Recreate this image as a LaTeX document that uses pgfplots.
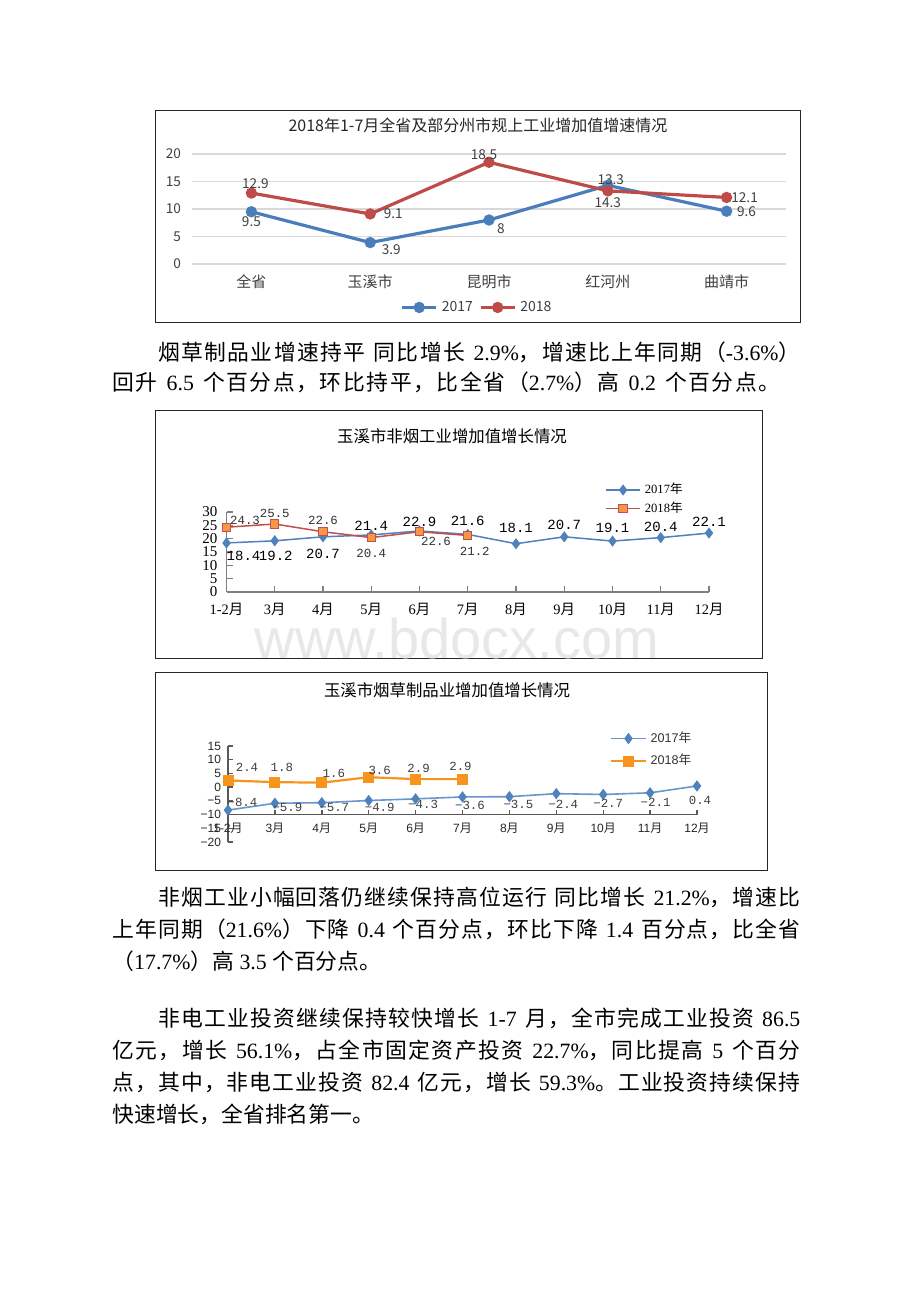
\documentclass[border=0pt]{standalone}
\usepackage{pgfplots}
\pgfplotsset{compat=1.18}
\usepackage{fontspec}
\setmainfont{Liberation Serif}
\newfontfamily\cjkfont{Noto Sans CJK SC}
\newfontfamily\sansfont{Liberation Sans}
\newfontfamily\monofont{Liberation Mono}

% switch CJK characters to the CJK font automatically
\XeTeXinterchartokenstate=1
\newXeTeXintercharclass\cjkclass
\newcount\cjkc
\def\setcjkrange#1#2{\cjkc=#1 \loop\XeTeXcharclass\cjkc=\cjkclass \ifnum\cjkc<#2 \advance\cjkc by 1 \repeat}
\setcjkrange{"3000}{"303F}
\setcjkrange{"4E00}{"9FFF}
\setcjkrange{"FF00}{"FFEF}
\XeTeXinterchartoks 0 \cjkclass={\begingroup\cjkfont}
\XeTeXinterchartoks 4095 \cjkclass={\begingroup\cjkfont}
\XeTeXinterchartoks \cjkclass 0={\endgroup}
\XeTeXinterchartoks \cjkclass 4095={\endgroup}
\XeTeXinterchartoks \cjkclass \cjkclass={\hskip0pt plus 0.6pt minus 0.2pt\relax}

\newcommand\fs[1]{\fontsize{#1}{#1}\selectfont}

\definecolor{cablue}{HTML}{4A7EBB}
\definecolor{cared}{HTML}{BE4B48}
\definecolor{cbblue}{HTML}{4F81BD}
\definecolor{cbred}{HTML}{C0504D}
\definecolor{cborange}{HTML}{F79646}
\definecolor{ccorange}{HTML}{F7941D}
\definecolor{ccblue}{HTML}{6A96CE}
\definecolor{gridgray}{HTML}{D9D9D9}
\definecolor{lblgray}{HTML}{404040}
\definecolor{axgray}{HTML}{7F7F7F}
\definecolor{axdark}{HTML}{595959}

\pgfplotsset{
  lbl/.style={nodes near coords, point meta=explicit symbolic,
    visualization depends on={value \thisrow{dx}\as\dx},
    visualization depends on={value \thisrow{dy}\as\dy},
    nodes near coords style={anchor=center, inner sep=0pt, xshift=\dx pt, yshift=\dy pt}},
}

\begin{document}
\begin{tikzpicture}
\begin{scope}[x=0.5pt,y=-0.5pt]
\fill[white] (0,0) rectangle (920,1302);
\useasboundingbox (0,0) rectangle (920,1302);
% frames
\draw[black!85, line width=0.5pt] (155,110) rectangle (800,322);
\draw[black!85, line width=0.5pt] (155,410) rectangle (762,658);
\draw[black!85, line width=0.5pt] (155,672) rectangle (767,870);
% watermark
\node[text=black!9, font=\sansfont\fs{28}] at (457,638) {www.bdocx.com};
% titles
\node[font=\cjkfont\fs{8}, text=black!85] at (478,125) {2018年1-7月全省及部分州市规上工业增加值增速情况};
\node[font=\cjkfont\fs{8.2}] at (452,436) {玉溪市非烟工业增加值增长情况};
\node[font=\cjkfont\fs{8.2}] at (447,690) {玉溪市烟草制品业增加值增长情况};
% body text
\begin{scope}[every node/.style={anchor=base west, inner sep=0pt, font=\fs{10.9}}]
\node at (158,360) {\makebox[321pt][s]{烟草制品业增速持平 同比增长 2.9\%，增速比上年同期（-3.6\%）}};
\node at (112,390) {\makebox[334pt][s]{回升 6.5 个百分点，环比持平，比全省（2.7\%）高 0.2 个百分点。}};
\node at (158,905) {\makebox[321pt][s]{非烟工业小幅回落仍继续保持高位运行 同比增长 21.2\%，增速比}};
\node at (112,937) {\makebox[344pt][s]{上年同期（21.6\%）下降 0.4 个百分点，环比下降 1.4 百分点，比全省}};
\node at (112,969) {（17.7\%）高 3.5 个百分点。};
\node at (158,1026) {\makebox[321pt][s]{非电工业投资继续保持较快增长 1-7 月，全市完成工业投资 86.5}};
\node at (112,1058) {\makebox[344pt][s]{亿元，增长 56.1\%，占全市固定资产投资 22.7\%，同比提高 5 个百分}};
\node at (112,1090) {\makebox[344pt][s]{点，其中，非电工业投资 82.4 亿元，增长 59.3\%。工业投资持续保持}};
\node at (112,1122) {快速增长，全省排名第一。};
\end{scope}
\end{scope}

% ---------- chart 1 ----------
\begin{axis}[
  at={(96pt,-132pt)}, anchor=south west, scale only axis,
  width=297pt, height=55pt,
  xmin=-0.5, xmax=4.5, ymin=0, ymax=20,
  xtick={0,1,2,3,4}, xticklabels={全省,玉溪市,昆明市,红河州,曲靖市},
  ytick={0,5,10,15,20}, yticklabels={0,5,10,15,20},
  axis line style={draw=none}, major tick style={draw=none},
  ymajorgrids, grid style={draw=gridgray, line width=0.8pt},
  ticklabel style={font=\cjkfont\fs{6.8}, text=lblgray},
  xticklabel style={yshift=-2pt, font=\cjkfont\fs{7.5}},
  yticklabel style={xshift=-2pt},
  clip=false,
  legend style={at={(0.4815,-0.395)}, anchor=center, legend columns=2, draw=none, fill=none,
    font=\cjkfont\fs{7}, text=lblgray, /tikz/every even column/.append style={column sep=1pt}},
]
\addplot[cablue, line width=1.6pt, mark=*, mark size=2pt, mark options={fill=cablue, draw=cablue},
  lbl, nodes near coords style={font=\cjkfont\fs{6.8}, text=lblgray}]
  table[x=x, y=y, meta=lab] {
x y lab dx dy
0 9.5 9.5 0 -5
1 3.9 3.9 10.5 -3.5
2 8 8 6 -4.5
3 14.3 14.3 0 -8.5
4 9.6 9.6 10 0
};
\addplot[cared, line width=1.6pt, mark=*, mark size=2pt, mark options={fill=cared, draw=cared},
  lbl, nodes near coords style={font=\cjkfont\fs{6.8}, text=lblgray}]
  table[x=x, y=y, meta=lab] {
x y lab dx dy
0 12.9 12.9 2 4.5
1 9.1 9.1 11.5 0
2 18.5 18.5 -2.5 4
3 13.3 13.3 1.5 5.5
4 12.1 12.1 9 0
};
\legend{2017,2018}
\end{axis}

% ---------- chart 2 ----------
\begin{axis}[
  at={(113.25pt,-296pt)}, anchor=south west, scale only axis,
  width=241.25pt, height=40pt,
  xmin=0, xmax=10, ymin=0, ymax=30,
  axis lines*=left, axis line style={draw=axgray, line width=0.7pt},
  tick align=inside, major tick length=3pt, major tick style={draw=axgray, line width=0.7pt},
  xtick={0,...,10}, xticklabels={1-2月,3月,4月,5月,6月,7月,8月,9月,10月,11月,12月},
  ytick={0,5,...,30}, yticklabels={0,5,10,15,20,25,30},
  ticklabel style={font=\fs{7.5}},
  yticklabel style={xshift=-1pt},
  xticklabel style={yshift=-2pt, font=\fs{7.2}},
  clip=false,
  legend style={at={(0.78,1.44)}, anchor=north west, draw=none, fill=none,
    font=\fs{6.3}, row sep=-1.5pt, inner sep=1pt},
  legend cell align=left,
]
\addplot[cbblue, line width=0.75pt, mark=diamond*, mark size=2.2pt, mark options={fill=cbblue, draw=cbblue},
  lbl, nodes near coords style={font=\monofont\fs{7}, text=black}]
  table[x=x, y=y, meta=lab] {
x y lab dx dy
0 18.4 18.4 8.5 -6.3
1 19.2 19.2 0.5 -7.5
2 20.7 20.7 0 -8.5
3 21.4 21.4 0 4.75
4 22.9 22.9 0 4.5
5 21.6 21.6 0 7
6 18.1 18.1 0 8
7 20.7 20.7 0 5.75
8 19.1 19.1 0 6.75
9 20.4 20.4 0 5.3
10 22.1 22.1 0 5.5
};
\addplot[cbred, line width=0.75pt, mark=square*, mark size=2.1pt, mark options={fill=cborange, draw=cbred, line width=0.5pt},
  lbl, nodes near coords style={font=\monofont\fs{6.2}, text=black!80}]
  table[x=x, y=y, meta=lab] {
x y lab dx dy
0 24.3 24.3 9.25 3.5
1 25.5 25.5 0 5.5
2 22.6 22.6 0 5.5
3 20.4 20.4 0 -8
4 22.6 22.6 8.25 -4.75
5 21.2 21.2 3.5 -7.75
};
\legend{2017年,2018年}
\end{axis}

% ---------- chart 3: y axis ----------
\begin{axis}[
  at={(114pt,-421pt)}, anchor=south west, scale only axis,
  width=234.5pt, height=48pt,
  xmin=0, xmax=10, ymin=-20, ymax=15,
  axis x line=none, axis y line*=left,
  axis line style={draw=axdark, line width=0.7pt},
  tick align=inside, major tick length=2.5pt, major tick style={draw=axdark, line width=0.7pt},
  xtick=\empty,
  ytick={-20,-15,...,15}, yticklabels={−20,−15,−10,−5,0,5,10,15},
  yticklabel style={font=\sansfont\fs{6}, text=black!85},
]
\end{axis}

% ---------- chart 3: x axis and data ----------
\begin{axis}[
  at={(114pt,-407.25pt)}, anchor=south west, scale only axis,
  width=234.5pt, height=34.3pt,
  xmin=0, xmax=10, ymin=-10, ymax=15,
  axis y line=none, axis x line*=bottom,
  axis line style={draw=axdark, line width=0.7pt},
  tick align=inside, major tick length=2.5pt, major tick style={draw=axdark, line width=0.7pt},
  ytick=\empty,
  xtick={0,...,10}, xticklabels={1-2月,3月,4月,5月,6月,7月,8月,9月,10月,11月,12月},
  xticklabel style={font=\sansfont\fs{6}, text=black!85, yshift=-0.5pt},
  clip=false,
  legend style={at={(0.81,1.30)}, anchor=north west, draw=none, fill=none,
    font=\sansfont\fs{6.3}, text=black!80, row sep=0.5pt, inner sep=1pt},
  legend cell align=left,
]
\addplot[ccblue, line width=0.8pt, mark=diamond*, mark size=2.2pt, mark options={fill=cbblue, draw=cbblue},
  lbl, nodes near coords style={font=\monofont\fs{6.2}, text=lblgray}]
  table[x=x, y=y, meta=lab] {
x y lab dx dy
0 -8.4 −8.4 7.25 4
1 -5.9 −5.9 6.25 -2
2 -5.7 −5.7 6.25 -2.35
3 -4.9 −4.9 5.5 -3.5
4 -4.3 −4.3 3.75 -3
5 -3.6 −3.6 3.75 -4
6 -3.5 −3.5 4.5 -4
7 -2.4 −2.4 3.5 -5.5
8 -2.7 −2.7 2.5 -4.5
9 -2.1 −2.1 2.75 -5
10 0.4 0.4 1.5 -7
};
\addplot[ccorange, line width=1.1pt, mark=square*, mark size=2.2pt, mark options={fill=ccorange, draw=ccorange},
  lbl, nodes near coords style={font=\monofont\fs{6.2}, text=lblgray}]
  table[x=x, y=y, meta=lab] {
x y lab dx dy
0 2.4 2.4 9.5 6.5
1 1.8 1.8 3.5 7.25
2 1.6 1.6 6 4.5
3 3.6 3.6 5.5 3.5
4 2.9 2.9 1.5 5.5
5 2.9 2.9 -1 6.5
};
\legend{2017年,2018年}
\end{axis}
\end{tikzpicture}
\end{document}
